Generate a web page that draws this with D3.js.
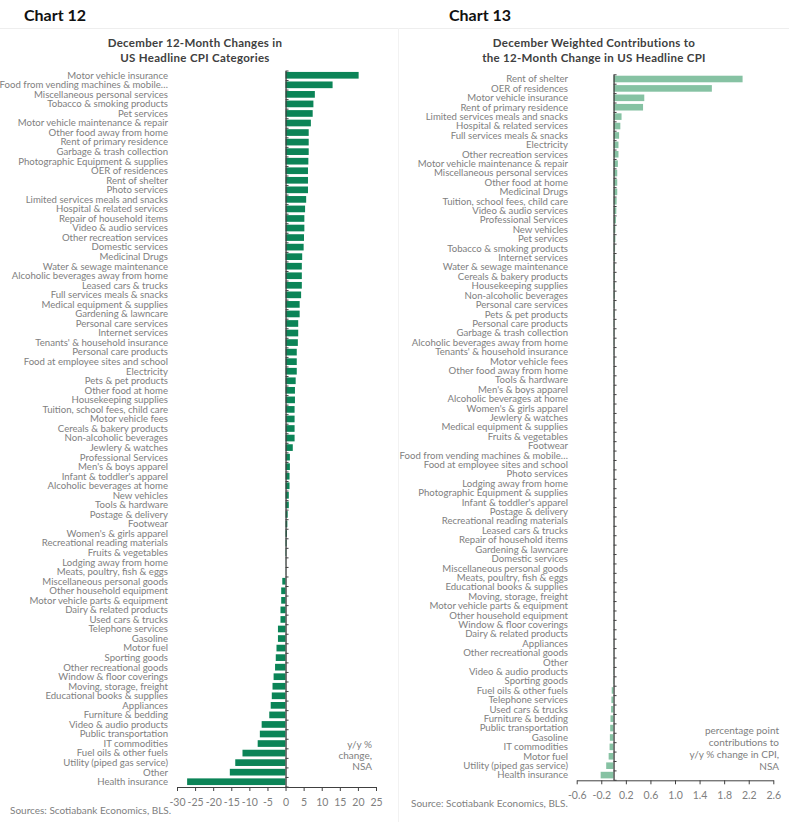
<!DOCTYPE html>
<html><head><meta charset="utf-8">
<script src="https://cdn.jsdelivr.net/npm/d3@7"></script>
<style>
body{margin:0;background:#fff;}
svg{display:block;}
text{font-family:Lato, "Open Sans", sans-serif;}
</style></head>
<body>
<svg id="c" width="789" height="822"></svg>
<script>
// ---- Chart 12 data ----
const cats12 = ["Motor vehicle insurance","Food from vending machines & mobile\u2026","Miscellaneous personal services","Tobacco & smoking products","Pet services","Motor vehicle maintenance & repair","Other food away from home","Rent of  primary residence","Garbage & trash collection","Photographic Equipment & supplies","OER of residences","Rent of shelter","Photo services","Limited services meals and snacks","Hospital & related services","Repair of household items","Video & audio services","Other recreation services","Domestic services","Medicinal Drugs","Water & sewage maintenance","Alcoholic beverages away from home","Leased cars & trucks","Full services meals & snacks","Medical equipment & supplies","Gardening & lawncare","Personal care services","Internet services","Tenants' & household insurance","Personal care products","Food at employee sites and school","Electricity","Pets & pet products","Other food at home","Housekeeping supplies","Tuition, school fees, child care","Motor vehicle fees","Cereals & bakery products","Non-alcoholic beverages","Jewlery & watches","Professional Services","Men's & boys apparel","Infant & toddler's apparel","Alcoholic beverages at home","New vehicles","Tools & hardware","Postage & delivery","Footwear","Women's & girls apparel","Recreational reading materials","Fruits & vegetables","Lodging away from home","Meats, poultry, fish & eggs","Miscellaneous personal goods","Other household equipment","Motor vehicle parts & equipment","Dairy & related products","Used cars & trucks","Telephone services","Gasoline","Motor fuel","Sporting goods","Other recreational goods","Window & floor coverings","Moving, storage, freight","Educational books & supplies","Appliances","Furniture & bedding","Video & audio products","Public transportation","IT commodities","Fuel oils & other fuels","Utility (piped gas service)","Other","Health insurance"];
const vals12 = [20.2,13.0,8.1,7.7,7.5,7.0,6.4,6.4,6.4,6.3,6.2,6.2,6.2,5.7,5.4,5.2,5.2,5.1,5.0,4.6,4.5,4.5,4.5,4.3,3.9,3.9,3.5,3.5,3.4,3.1,3.1,3.1,2.8,2.6,2.6,2.5,2.5,2.5,2.5,2.0,1.2,1.2,1.1,1.1,0.9,0.9,0.6,0.5,0.4,0.3,0.2,0.05,0.05,-0.9,-1.2,-1.2,-1.4,-1.4,-2.1,-2.1,-2.5,-2.7,-2.9,-3.3,-3.6,-3.8,-4.1,-4.5,-6.6,-7.1,-7.7,-11.9,-13.9,-15.4,-27.2];
const ticks12 = [-30,-25,-20,-15,-10,-5,0,5,10,15,20,25];

// ---- Chart 13 data ----
const cats13 = ["Rent of shelter","OER of residences","Motor vehicle insurance","Rent of  primary residence","Limited services meals and snacks","Hospital & related services","Full services meals & snacks","Electricity","Other recreation services","Motor vehicle maintenance & repair","Miscellaneous personal services","Other food at home","Medicinal Drugs","Tuition, school fees, child care","Video & audio services","Professional Services","New vehicles","Pet services","Tobacco & smoking products","Internet services","Water & sewage maintenance","Cereals & bakery products","Housekeeping supplies","Non-alcoholic beverages","Personal care services","Pets & pet products","Personal care products","Garbage & trash collection","Alcoholic beverages away from home","Tenants' & household insurance","Motor vehicle fees","Other food away from home","Tools & hardware","Men's & boys apparel","Alcoholic beverages at home","Women's & girls apparel","Jewlery & watches","Medical equipment & supplies","Fruits & vegetables","Footwear","Food from vending machines & mobile\u2026","Food at employee sites and school","Photo services","Lodging away from home","Photographic Equipment & supplies","Infant & toddler's apparel","Postage & delivery","Recreational reading materials","Leased cars & trucks","Repair of household items","Gardening & lawncare","Domestic services","Miscellaneous personal goods","Meats, poultry, fish & eggs","Educational books & supplies","Moving, storage, freight","Motor vehicle parts & equipment","Other household equipment","Window & floor coverings","Dairy & related products","Appliances","Other recreational goods","Other","Video & audio products","Sporting goods","Fuel oils & other fuels","Telephone services","Used cars & trucks","Furniture & bedding","Public transportation","Gasoline","IT commodities","Motor fuel","Utility (piped gas service)","Health insurance"];
const vals13 = [2.10,1.60,0.50,0.48,0.13,0.11,0.09,0.08,0.08,0.07,0.06,0.06,0.06,0.05,0.045,0.04,0.03,0.03,0.025,0.025,0.02,0.02,0.02,0.02,0.015,0.015,0.012,0.012,0.012,0.01,0.01,0.01,0.008,0.008,0.007,0.006,0.005,0.005,0.004,0.003,0.003,0.003,0.002,0.002,0.002,0.002,0.001,0.001,0.001,0.001,0.001,0.0005,0,0,-0.0005,-0.001,-0.002,-0.002,-0.003,-0.003,-0.004,-0.005,-0.006,-0.008,-0.01,-0.03,-0.035,-0.04,-0.05,-0.055,-0.06,-0.065,-0.08,-0.12,-0.21];
const ticks13 = [-0.6,-0.2,0.2,0.6,1.0,1.4,1.8,2.2,2.6];

const svg = d3.select("#c");
const labelColor = "#808080";
const axisColor = "#404040";

// frame lines
svg.append("line").attr("x1",0).attr("x2",398).attr("y1",28.5).attr("y2",28.5).attr("stroke","#eeeeee");
svg.append("line").attr("x1",399).attr("x2",789).attr("y1",28.5).attr("y2",28.5).attr("stroke","#eeeeee");
svg.append("line").attr("x1",398.5).attr("x2",398.5).attr("y1",28).attr("y2",822).attr("stroke","#f2f2f2");

// titles
function title(x, t){ svg.append("text").attr("x",x).attr("y",21).attr("font-size",16).attr("font-weight",700).attr("fill","#111").text(t); }
title(24,"Chart 12"); title(449,"Chart 13");
function subtitle(cx, lines){
  lines.forEach((l,i)=>svg.append("text").attr("x",cx).attr("y",46.5+i*15).attr("text-anchor","middle")
    .attr("font-size",11.5).attr("font-weight",700).attr("fill","#404040").attr("letter-spacing",0.3).text(l));
}
subtitle(195,["December 12-Month Changes in","US Headline CPI Categories"]);
subtitle(594,["December Weighted Contributions to","the 12-Month Change in US Headline CPI"]);

function drawChart(cfg){
  const g = svg.append("g");
  const x = d3.scaleLinear().domain(cfg.domain).range(cfg.xr);
  const n = cfg.cats.length;
  const y = d3.scaleBand().domain(d3.range(n)).range(cfg.yr).paddingInner(0.3).paddingOuter(0.15);
  // bars
  g.selectAll("rect").data(cfg.vals).join("rect")
    .attr("x", d=>x(Math.min(0,d)))
    .attr("width", d=>Math.abs(x(d)-x(0)))
    .attr("y", (d,i)=>y(i))
    .attr("height", y.bandwidth())
    .attr("fill", cfg.color);
  // category labels
  g.selectAll("text.lab").data(cfg.cats).join("text").attr("class","lab")
    .attr("x", cfg.labelX).attr("y",(d,i)=>y(i)+y.bandwidth()/2)
    .attr("dy","0.35em").attr("text-anchor","end").attr("font-size",cfg.fs).attr("fill",labelColor)
    .text(d=>d);
  // y axis (boundary ticks to the right)
  const yi = d3.scaleLinear().domain([0,n]).range(cfg.yr);
  const ya = g.append("g").attr("transform",`translate(${x(0)},0)`)
    .call(d3.axisRight(yi).tickValues(d3.range(n+1)).tickSize(3).tickSizeOuter(0).tickFormat(""));
  ya.selectAll("path,line").attr("stroke",axisColor);
  ya.select("path").attr("stroke-width",1.3);
  // x axis
  const xa = g.append("g").attr("transform",`translate(0,${cfg.yr[1]+0.5})`)
    .call(d3.axisBottom(x).tickValues(cfg.ticks).tickSize(4).tickSizeOuter(0).tickFormat(cfg.fmt));
  xa.selectAll("path,line").attr("stroke",axisColor);
  xa.selectAll("text").attr("fill",labelColor).attr("font-size",10.5).attr("dy","1.15em").style("font-family","Lato");
  // annotation
  cfg.note.forEach((l,i)=>g.append("text").attr("x",cfg.noteX).attr("y",cfg.noteY+i*cfg.noteDy)
    .attr("dy","0.35em").attr("text-anchor","end").attr("font-size",10).attr("fill",labelColor).text(l));
  g.append("text").attr("x",cfg.srcX).attr("y",cfg.srcY).attr("dy","0.35em").attr("font-size",10)
    .attr("fill",labelColor).text(cfg.src);
}

drawChart({cats:cats12, vals:vals12, domain:[-30,25], xr:[177,376], yr:[70.5,786.5], ticks:ticks12,
  fmt:d=>String(d), color:"#0b8457", labelX:168, fs:9.6,
  note:["y/y %","change,","NSA"], noteX:372, noteY:744, noteDy:11,
  src:"Sources: Scotiabank Economics, BLS.", srcX:10, srcY:810});
drawChart({cats:cats13, vals:vals13, domain:[-0.6,2.6], xr:[576.7,773.3], yr:[74.3,779.8], ticks:ticks13,
  fmt:d=>d.toFixed(1), color:"#86c2a3", labelX:568, fs:9.6,
  note:["percentage point","contributions to","y/y % change in CPI,","NSA"], noteX:779, noteY:730, noteDy:12,
  src:"Source: Scotiabank Economics, BLS.", srcX:411, srcY:803});
</script>
</body></html>
